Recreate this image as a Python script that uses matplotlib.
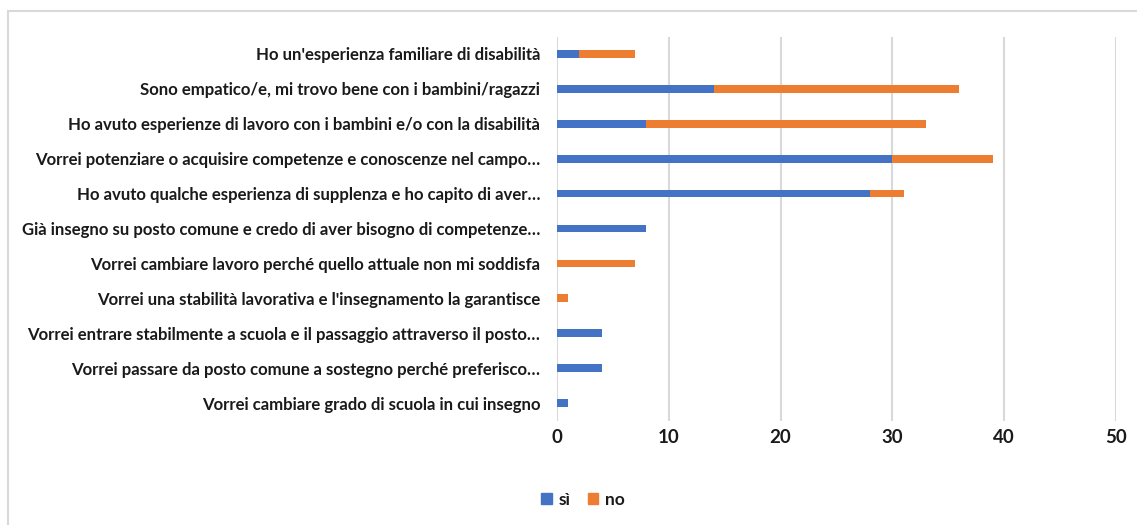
import matplotlib
matplotlib.use("Agg")
import matplotlib.pyplot as plt
from matplotlib.lines import Line2D
from matplotlib.patches import Patch

categories = [
    "Ho un'esperienza familiare di disabilità",
    "Sono empatico/e, mi trovo bene con i bambini/ragazzi",
    "Ho avuto esperienze di lavoro con i bambini e/o con la disabilità",
    "Vorrei potenziare o acquisire competenze e conoscenze nel campo…",
    "Ho avuto qualche esperienza di supplenza e ho capito di aver…",
    "Già insegno su posto comune e credo di aver bisogno di competenze…",
    "Vorrei cambiare lavoro perché quello attuale non mi soddisfa",
    "Vorrei una stabilità lavorativa e l'insegnamento la garantisce",
    "Vorrei entrare stabilmente a scuola e il passaggio attraverso il posto…",
    "Vorrei passare da posto comune a sostegno perché preferisco…",
    "Vorrei cambiare grado di scuola in cui insegno",
]
si_values = [2, 14, 8, 30, 28, 8, 0, 0, 4, 4, 1]
no_values = [5, 22, 25, 9, 3, 0, 7, 1, 0, 0, 0]
x_ticks = [0, 10, 20, 30, 40, 50]
series_names = ["sì", "no"]

BLUE = "#4472C4"
ORANGE = "#ED7D31"
GRID = "#d9d9d9"
TEXT = "#1a1a1a"
FONT = ["Lato", "DejaVu Sans"]

W, H = 1137, 525
fig = plt.figure(figsize=(W / 100, H / 100), dpi=100)

# chart frame (left and top edges)
fig.add_artist(Line2D([7.5 / W, 7.5 / W], [0, 1 - 10.5 / H], transform=fig.transFigure,
                      color=GRID, lw=1.5))
fig.add_artist(Line2D([7.5 / W, 1], [1 - 10.5 / H, 1 - 10.5 / H], transform=fig.transFigure,
                      color=GRID, lw=1.5))

left, right = 557 / W, 1116 / W
top, bottom = 1 - 36.5 / H, 1 - 420.5 / H
ax = fig.add_axes([left, bottom, right - left, top - bottom])

y = list(range(len(categories)))
ax.barh(y, si_values, height=0.22, color=BLUE, label=series_names[0], zorder=3)
ax.barh(y, no_values, left=si_values, height=0.22, color=ORANGE,
        label=series_names[1], zorder=3)

ax.set_xlim(0, 50)
ax.set_ylim(len(categories) - 0.5, -0.5)
ax.set_xticks(x_ticks)
ax.set_yticks(y)
ax.set_yticklabels(categories, fontsize=12.1, fontweight="bold", color=TEXT, family=FONT)
ax.set_xticklabels([str(t) for t in x_ticks], fontsize=13.5, fontweight="bold",
                   color=TEXT, family=FONT)
ax.tick_params(axis="y", length=0, pad=12)
ax.tick_params(axis="x", length=0, pad=6)
for s in ax.spines.values():
    s.set_visible(False)
ax.grid(axis="x", color=GRID, lw=1.5, zorder=0)
ax.set_axisbelow(True)

handles = [Patch(color=BLUE), Patch(color=ORANGE)]
fig.legend(handles, series_names, loc="center", bbox_to_anchor=(583 / W, 1 - 500 / H),
           ncol=2, frameon=False, handlelength=0.6, handleheight=0.6,
           handletextpad=0.4, columnspacing=1.0,
           prop={"family": FONT, "weight": "bold", "size": 12.5})
for t in fig.legends[0].get_texts():
    t.set_color(TEXT)

fig.savefig("out.png", dpi=100, facecolor="white")
